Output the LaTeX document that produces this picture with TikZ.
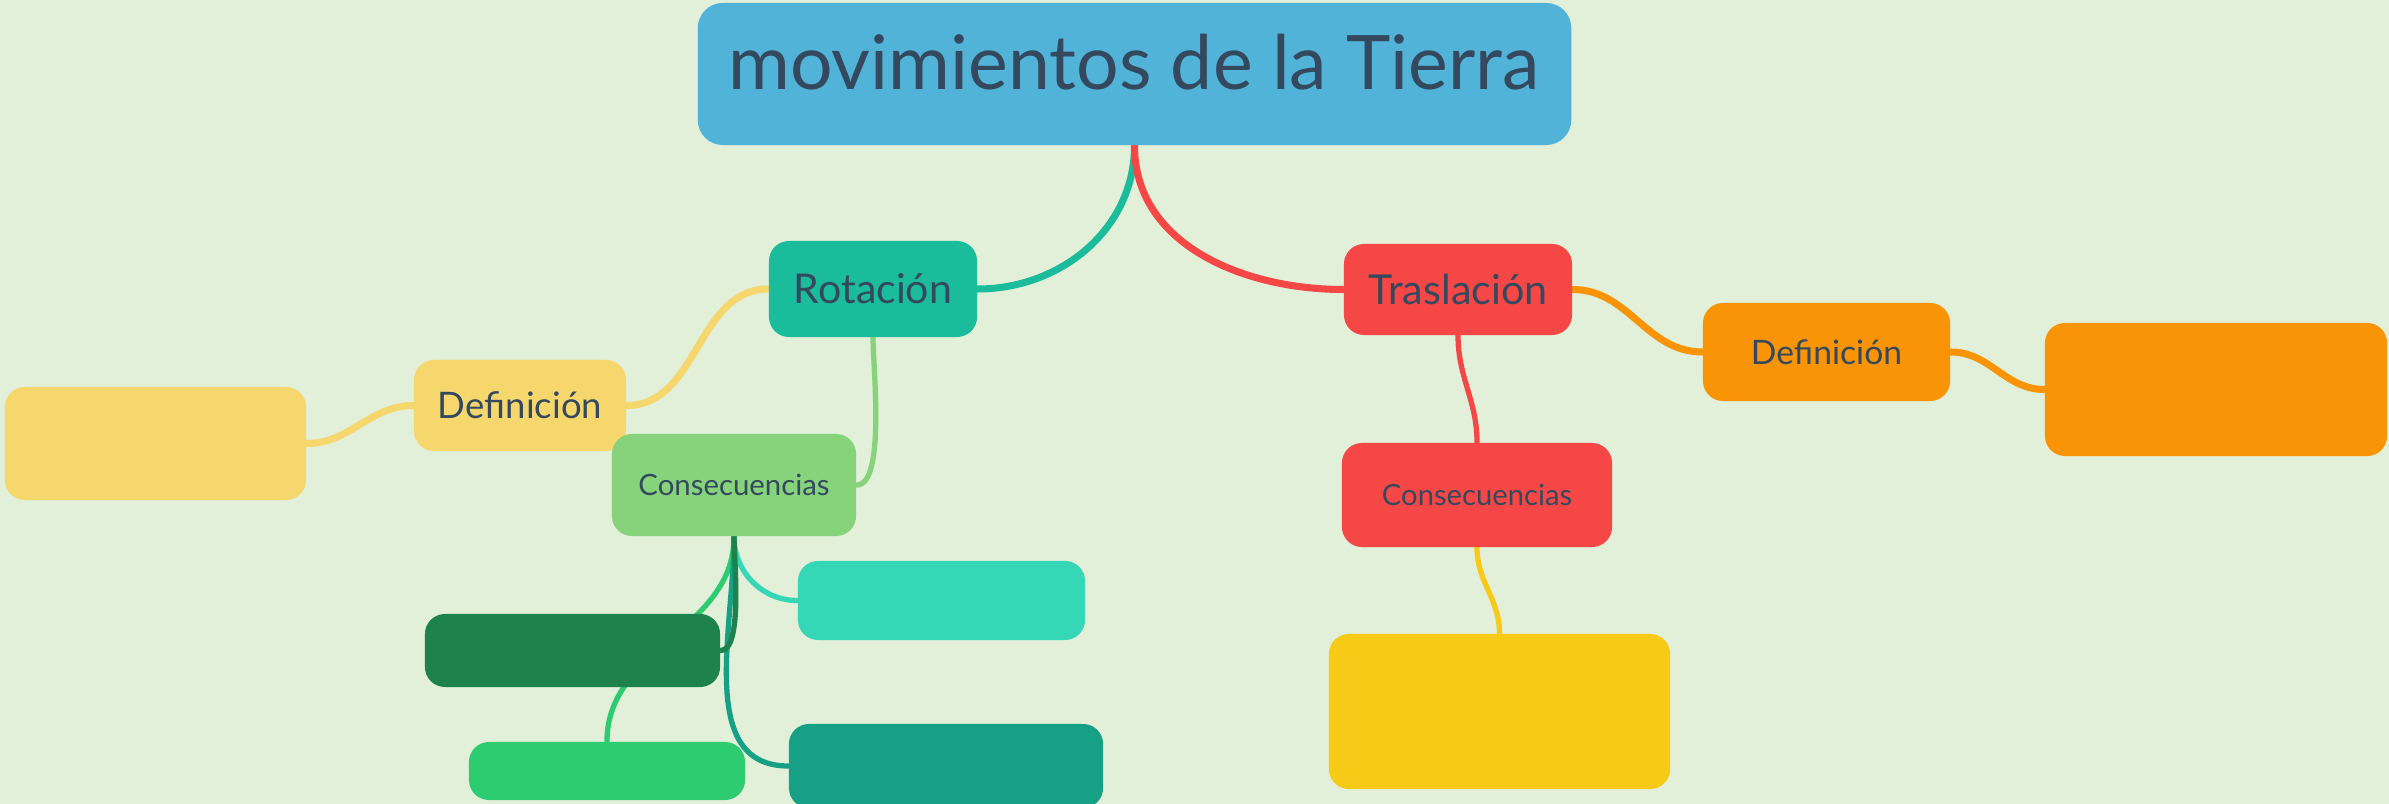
\documentclass[tikz,border=0pt]{standalone}
\usepackage{fontspec}
\setmainfont{Lato}
\usepackage{graphicx}
\definecolor{bgc}{HTML}{E2EFD9}
\definecolor{ink}{HTML}{34495E}
\definecolor{ctitle}{HTML}{52B3D9}
\definecolor{crot}{HTML}{1ABC9C}
\definecolor{ctras}{HTML}{F64747}
\definecolor{cyel}{HTML}{F5D76E}
\definecolor{cconsL}{HTML}{87D37C}
\definecolor{cteal}{HTML}{36D7B7}
\definecolor{cdgreen}{HTML}{1E824C}
\definecolor{cgreen}{HTML}{2ECC71}
\definecolor{cdteal}{HTML}{16A085}
\definecolor{cgold}{HTML}{F7CA18}
\definecolor{corange}{HTML}{F89406}
\pgfdeclarelayer{bglayer}
\pgfdeclarelayer{linelayer}
\pgfsetlayers{bglayer,linelayer,main}
\newcommand\fitw[2]{\resizebox{#1}{!}{#2}}
\begin{document}
\begin{tikzpicture}[x=0.01cm,y=-0.01cm,
  box/.style={rounded corners=0.2cm, inner sep=0pt, text=ink},
  conn/.style={line width=2pt, line cap=round},
  subconn/.style={line width=1.5pt, line cap=round}]
\useasboundingbox (0,0) rectangle (2389,804);
\begin{pgfonlayer}{bglayer}
\fill[bgc] (0,0) rectangle (2389,804);
\end{pgfonlayer}
% boxes
\node[box, fill=ctitle, rounded corners=0.25cm, minimum width=8.73cm, minimum height=1.42cm] (title) at (1134.5,74) {};
\node[text=ink, inner sep=0pt] (titletext) at (1134,62) {\fitw{8.11cm}{movimientos de la Tierra}};
\node[box, fill=crot, minimum width=2.08cm, minimum height=0.96cm] (rot) at (873,289) {\fitw{1.58cm}{Rotación}};
\node[box, fill=ctras, minimum width=2.28cm, minimum height=0.91cm] (tras) at (1458,289.5) {\fitw{1.79cm}{Traslación}};
\node[box, fill=cyel, minimum width=2.12cm, minimum height=0.91cm] (defL) at (520,405.5) {\fitw{1.64cm}{Definición}};
\node[box, fill=cyel, minimum width=3.01cm, minimum height=1.13cm] (ybox) at (155.5,443.5) {};
\node[box, fill=cconsL, minimum width=2.44cm, minimum height=1.02cm] (consL) at (734,485) {\fitw{1.91cm}{Consecuencias}};
\node[box, fill=cteal, minimum width=2.87cm, minimum height=0.79cm] (teal) at (941.5,600.5) {};
\node[box, fill=cdgreen, minimum width=2.95cm, minimum height=0.73cm] (dgreen) at (572.5,650.5) {};
\node[box, fill=cgreen, minimum width=2.76cm, minimum height=0.58cm] (green) at (607,771) {};
\node[box, fill=cdteal, minimum width=3.14cm, minimum height=0.84cm] (dteal) at (946,766) {};
\node[box, fill=ctras, minimum width=2.70cm, minimum height=1.04cm] (consR) at (1477,495) {\fitw{1.90cm}{Consecuencias}};
\node[box, fill=cgold, minimum width=3.41cm, minimum height=1.55cm] (gold) at (1499.5,711.5) {};
\node[box, fill=corange, minimum width=2.47cm, minimum height=0.98cm] (defR) at (1826.5,352) {\fitw{1.51cm}{Definición}};
\node[box, fill=corange, minimum width=3.42cm, minimum height=1.33cm] (obox) at (2216,389.5) {};
% connectors
\begin{pgfonlayer}{linelayer}
\draw[conn, crot] (title.south) to[out=-90,in=0] (rot.east);
\draw[conn, ctras] (title.south) to[out=-90,in=180] (tras.west);
\draw[conn, cyel] (rot.west) to[out=180,in=0] (defL.east);
\draw[conn, cyel] (defL.west) to[out=180,in=0] (ybox.east);
\draw[subconn, cconsL] (rot.south) to[out=-90,in=0,looseness=0.5] (consL.east);
\draw[subconn, cteal] (consL.south) to[out=-90,in=180] (teal.west);
\draw[subconn, cgreen] (consL.south) to[out=-90,in=90] (green.north);
\draw[subconn, cdteal] (consL.south) to[out=-90,in=180] (dteal.west);
\draw[subconn, cdgreen] (consL.south) to[out=-90,in=0,looseness=0.5] (dgreen.east);
\draw[subconn, ctras] (tras.south) to[out=-90,in=90] (consR.north);
\draw[subconn, cgold] (consR.south) to[out=-90,in=90] (gold.north);
\draw[conn, corange] (tras.east) to[out=0,in=180] (defR.west);
\draw[conn, corange] (defR.east) to[out=0,in=180] (obox.west);
\end{pgfonlayer}
\end{tikzpicture}
\end{document}
